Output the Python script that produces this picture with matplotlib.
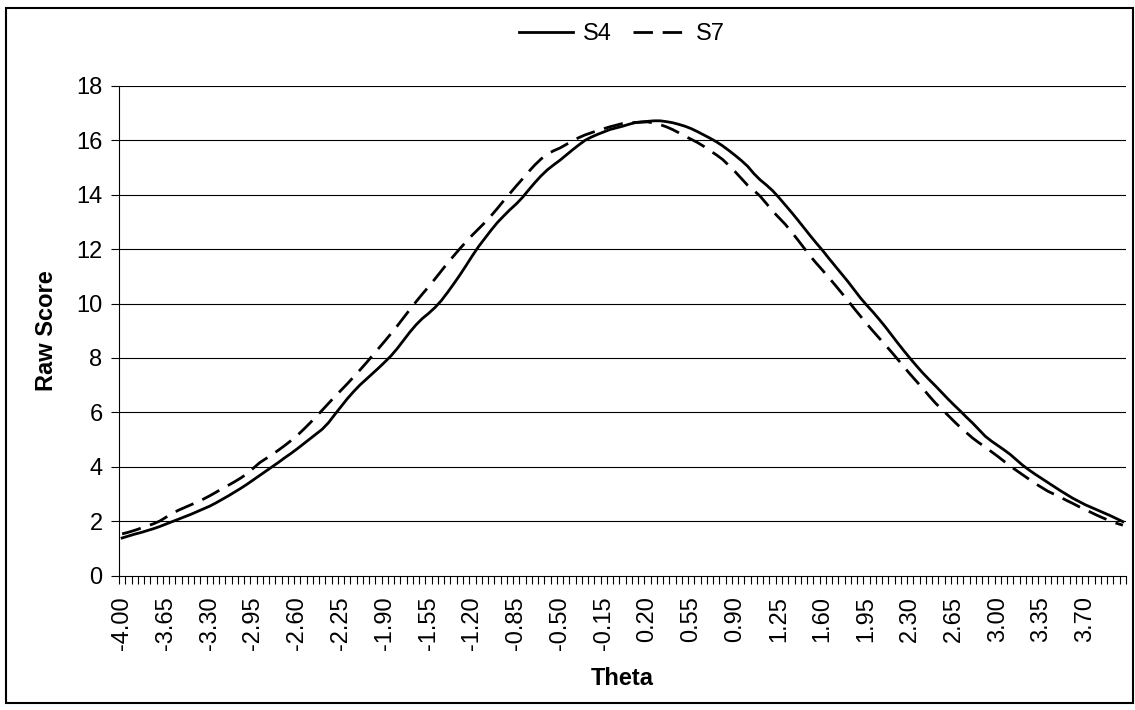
import numpy as np
import matplotlib
matplotlib.use("Agg")
import matplotlib.pyplot as plt
from matplotlib.patches import Rectangle

plt.rcParams['font.family'] = ['Liberation Sans', 'DejaVu Sans']

# theta categories -4.00 .. 4.00 step 0.05
theta = [round(-4 + 0.05 * i, 2) for i in range(161)]

s4 = [1.38, 1.45, 1.52, 1.58, 1.65, 1.72, 1.80, 1.89, 1.98, 2.07,
      2.16, 2.25, 2.35, 2.45, 2.55, 2.67, 2.80, 2.93, 3.07, 3.21,
      3.36, 3.52, 3.68, 3.84, 4.00, 4.16, 4.33, 4.49, 4.66, 4.84,
      5.02, 5.20, 5.38, 5.62, 5.92, 6.21, 6.50, 6.76, 7.00, 7.21,
      7.42, 7.63, 7.85, 8.08, 8.35, 8.65, 8.95, 9.22, 9.45, 9.64,
      9.85, 10.10, 10.40, 10.72, 11.05, 11.40, 11.76, 12.10, 12.40, 12.70,
      12.98, 13.22, 13.45, 13.66, 13.90, 14.18, 14.45, 14.70, 14.92, 15.10,
      15.27, 15.46, 15.65, 15.83, 16.00, 16.12, 16.22, 16.31, 16.40, 16.46,
      16.52, 16.59, 16.65, 16.68, 16.70, 16.72, 16.72, 16.69, 16.65, 16.59,
      16.52, 16.43, 16.32, 16.20, 16.08, 15.95, 15.80, 15.63, 15.45, 15.26,
      15.05, 14.78, 14.55, 14.36, 14.15, 13.90, 13.63, 13.36, 13.08, 12.79,
      12.50, 12.22, 11.95, 11.66, 11.38, 11.10, 10.82, 10.52, 10.22, 9.95,
      9.70, 9.43, 9.15, 8.85, 8.55, 8.26, 7.98, 7.71, 7.45, 7.21,
      6.98, 6.74, 6.50, 6.27, 6.05, 5.82, 5.60, 5.36, 5.12, 4.94,
      4.78, 4.62, 4.45, 4.25, 4.05, 3.88, 3.72, 3.57, 3.42, 3.27,
      3.12, 2.98, 2.84, 2.72, 2.60, 2.50, 2.40, 2.30, 2.20, 2.09,
      1.98]

s7 = [1.53, 1.59, 1.66, 1.74, 1.82, 1.90, 2.00, 2.14, 2.28, 2.40,
      2.50, 2.60, 2.70, 2.81, 2.93, 3.06, 3.20, 3.32, 3.45, 3.59,
      3.75, 3.95, 4.15, 4.30, 4.45, 4.61, 4.78, 4.96, 5.15, 5.37,
      5.60, 5.84, 6.08, 6.33, 6.58, 6.81, 7.05, 7.30, 7.55, 7.81,
      8.08, 8.35, 8.62, 8.90, 9.18, 9.48, 9.78, 10.07, 10.35, 10.62,
      10.90, 11.19, 11.48, 11.75, 12.02, 12.27, 12.52, 12.75, 12.98, 13.23,
      13.50, 13.78, 14.05, 14.32, 14.58, 14.85, 15.10, 15.32, 15.50, 15.62,
      15.72, 15.85, 15.98, 16.10, 16.20, 16.28, 16.36, 16.43, 16.50, 16.56,
      16.62, 16.64, 16.66, 16.67, 16.68, 16.64, 16.58, 16.50, 16.40, 16.28,
      16.15, 16.04, 15.92, 15.78, 15.62, 15.47, 15.30, 15.08, 14.85, 14.60,
      14.35, 14.16, 13.95, 13.68, 13.40, 13.16, 12.92, 12.64, 12.35, 12.05,
      11.75, 11.48, 11.22, 10.95, 10.68, 10.40, 10.12, 9.83, 9.55, 9.27,
      9.00, 8.74, 8.48, 8.22, 7.95, 7.67, 7.40, 7.14, 6.88, 6.61,
      6.35, 6.12, 5.90, 5.67, 5.45, 5.25, 5.05, 4.88, 4.72, 4.55,
      4.38, 4.20, 4.02, 3.86, 3.70, 3.54, 3.38, 3.24, 3.10, 2.99,
      2.88, 2.76, 2.65, 2.53, 2.42, 2.31, 2.20, 2.10, 2.00, 1.92,
      1.85]

fs = 17
fig = plt.figure(figsize=(11.35, 7.10), dpi=100)
ax = fig.add_axes([119 / 1135, 1 - 575.5 / 710, (1126 - 119) / 1135, (575.5 - 86) / 710])

x = np.arange(len(theta))
ax.plot(x, s4, color='black', lw=2.0, label='S4')
ax.plot(x, s7, color='black', lw=2.0, dashes=(7, 3.5), label='S7')

ax.set_xlim(-0.5, len(theta) - 0.5)
ax.set_ylim(0, 18)
ax.set_yticks(range(0, 19, 2))
for yv in range(2, 19, 2):
    ax.axhline(yv, color='black', lw=0.8, zorder=0)

lab_idx = list(range(0, len(theta), 7))
ax.set_xticks(lab_idx)
ax.set_xticklabels(['%.2f' % theta[i] for i in lab_idx], rotation=90)
ax.set_xticks(np.arange(-0.5, len(theta), 1), minor=True)
ax.tick_params(axis='x', which='major', length=0, pad=15, labelsize=fs)
ax.tick_params(axis='x', which='minor', length=5.5, width=0.8, direction='out')
ax.tick_params(axis='y', length=5.8, width=0.8, direction='out', pad=6, labelsize=fs)

for s in ['top', 'right']:
    ax.spines[s].set_visible(False)
for s in ['left', 'bottom']:
    ax.spines[s].set_linewidth(0.8)

ax.set_xlabel('Theta', fontsize=fs, fontweight='bold', labelpad=12)
ax.set_ylabel('Raw Score', fontsize=fs, fontweight='bold', labelpad=13)

fig.legend(loc='upper center', bbox_to_anchor=(0.548, 0.997), ncol=2, frameon=False,
           fontsize=fs, handlelength=2.3, columnspacing=0.9, handletextpad=0.4)

fig.patches.append(Rectangle((5.5 / 1135, 1 - 703 / 710), (1133 - 5.5) / 1135, (703 - 8) / 710,
                             transform=fig.transFigure, fill=False, edgecolor='black', lw=1.5))

fig.savefig('out.png', dpi=100)
